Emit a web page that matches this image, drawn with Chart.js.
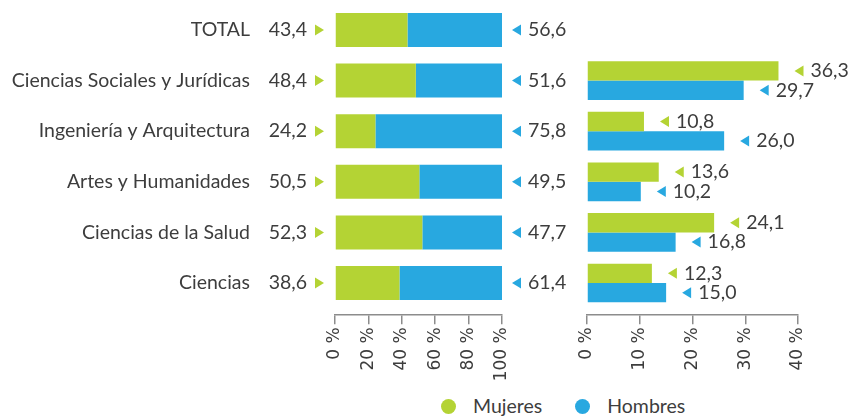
<!DOCTYPE html>
<html>
<head>
<meta charset="utf-8">
<script src="https://cdn.jsdelivr.net/npm/chart.js@4.4.1/dist/chart.umd.min.js"></script>
<style>
  body { margin: 0; background: #fff; }
  #wrap { position: relative; width: 852px; height: 416px; overflow: hidden; }
  #wrap canvas { position: absolute; top: 0; }
  #pct-chart { left: 0; }
  #share-chart { left: 560px; }
  #legend { position: absolute; top: 396px; left: 441px; display: flex; align-items: center;
            font: 19.5px Lato, sans-serif; color: #3d3d3d; line-height: 20px; }
  #legend .item { display: flex; align-items: center; margin-right: 33px; }
  #legend .dot { width: 15px; height: 15px; border-radius: 50%; margin-right: 17px; }
</style>
</head>
<body>
<div id="wrap">
  <canvas id="pct-chart" width="580" height="390"></canvas>
  <canvas id="share-chart" width="292" height="390"></canvas>
  <div id="legend"></div>
</div>
<script>
const labels = ["TOTAL", "Ciencias Sociales y Jurídicas", "Ingeniería y Arquitectura", "Artes y Humanidades", "Ciencias de la Salud", "Ciencias"];
const seriesNames = ["Mujeres", "Hombres"];
const seriesColors = ["#b4d334", "#28a8e0"];

// % de mujeres / hombres dentro de cada rama
const mujeresPct = [43.4, 48.4, 24.2, 50.5, 52.3, 38.6];
const hombresPct = [56.6, 51.6, 75.8, 49.5, 47.7, 61.4];

// peso de cada rama sobre el total de cada sexo (sin fila TOTAL)
const mujeresRama = [null, 36.3, 10.8, 13.6, 24.1, 12.3];
const hombresRama = [null, 29.7, 26.0, 10.2, 16.8, 15.0];

const textColor = "#3d3d3d";
const labelFont = "19.5px Lato, sans-serif";
const axisColor = "#8c8c8c";

const fmt = v => v.toFixed(1).replace(".", ",");

function triangle(ctx, x, y, dir, color) {
  // dir 1 = apunta a la derecha, -1 = a la izquierda
  ctx.fillStyle = color;
  ctx.beginPath();
  if (dir > 0) {
    ctx.moveTo(x, y - 5.5); ctx.lineTo(x + 9, y); ctx.lineTo(x, y + 5.5);
  } else {
    ctx.moveTo(x + 9, y - 5.5); ctx.lineTo(x, y); ctx.lineTo(x + 9, y + 5.5);
  }
  ctx.closePath();
  ctx.fill();
}

// valores a ambos lados de la barra apilada
const sideValues = {
  id: "sideValues",
  afterDatasetsDraw(chart) {
    const { ctx, chartArea } = chart;
    const bars = chart.getDatasetMeta(0).data;
    ctx.save();
    ctx.font = labelFont;
    ctx.textBaseline = "middle";
    bars.forEach((bar, i) => {
      const y = bar.y;
      ctx.fillStyle = textColor;
      ctx.textAlign = "right";
      ctx.fillText(fmt(mujeresPct[i]), chartArea.left - 28, y);
      triangle(ctx, chartArea.left - 20, y, 1, seriesColors[0]);
      triangle(ctx, chartArea.right + 10, y, -1, seriesColors[1]);
      ctx.fillStyle = textColor;
      ctx.textAlign = "left";
      ctx.fillText(fmt(hombresPct[i]), chartArea.right + 26, y);
    });
    ctx.restore();
  }
};

// valor al final de cada barra
const endValues = {
  id: "endValues",
  afterDatasetsDraw(chart) {
    const { ctx } = chart;
    ctx.save();
    ctx.font = labelFont;
    ctx.textBaseline = "middle";
    ctx.textAlign = "left";
    chart.data.datasets.forEach((ds, d) => {
      chart.getDatasetMeta(d).data.forEach((bar, i) => {
        const v = ds.data[i];
        if (v === null) return;
        triangle(ctx, bar.x + 16, bar.y, -1, seriesColors[d]);
        ctx.fillStyle = textColor;
        ctx.fillText(fmt(v), bar.x + 32, bar.y);
      });
    });
    ctx.restore();
  }
};

function bottomAxis(max, step) {
  return {
    type: "linear",
    position: "bottom",
    weight: 10,
    min: 0,
    max: max,
    grid: { drawOnChartArea: false, color: axisColor, tickLength: 10, lineWidth: 1.5 },
    border: { color: axisColor, width: 1.5 },
    ticks: {
      stepSize: step,
      minRotation: 90,
      maxRotation: 90,
      padding: 3,
      color: textColor,
      font: { family: "'DejaVu Sans', sans-serif", size: 17 },
      callback: v => v + " %"
    },
    afterFit: s => { s.height = 70; }
  };
}

// separa la línea del eje de las barras
function gapAxis() {
  return {
    type: "linear",
    position: "bottom",
    weight: 0,
    grid: { display: false },
    border: { display: false },
    ticks: { display: false },
    afterFit: s => { s.height = 6; }
  };
}

Chart.defaults.font.family = "Lato, sans-serif";
Chart.defaults.color = textColor;

new Chart(document.getElementById("pct-chart"), {
  type: "bar",
  data: {
    labels: labels,
    datasets: [
      { label: seriesNames[0], data: mujeresPct, backgroundColor: seriesColors[0], categoryPercentage: 0.672, barPercentage: 1 },
      { label: seriesNames[1], data: hombresPct, backgroundColor: seriesColors[1], categoryPercentage: 0.672, barPercentage: 1 }
    ]
  },
  options: {
    indexAxis: "y",
    responsive: false,
    animation: false,
    layout: { padding: { top: 4.7, bottom: 5.7, left: 0, right: 78 } },
    plugins: { legend: { display: false }, tooltip: { enabled: false } },
    scales: {
      x: Object.assign(bottomAxis(100, 20), { stacked: true }),
      gap: gapAxis(),
      y: {
        stacked: true,
        // tickLength deja el hueco entre el nombre de la rama y los valores
        grid: { display: false, drawTicks: true, tickLength: 85 },
        border: { display: false },
        // lineHeight bajo para que la primera etiqueta no empuje el área hacia abajo
        ticks: { padding: 0, color: textColor, font: { size: 19.5, lineHeight: 0.4 } },
        afterFit: s => { s.width = 335; }
      }
    }
  },
  plugins: [sideValues]
});

new Chart(document.getElementById("share-chart"), {
  type: "bar",
  data: {
    labels: labels,
    datasets: [
      { label: seriesNames[0], data: mujeresRama, backgroundColor: seriesColors[0], categoryPercentage: 0.765, barPercentage: 1 },
      { label: seriesNames[1], data: hombresRama, backgroundColor: seriesColors[1], categoryPercentage: 0.765, barPercentage: 1 }
    ]
  },
  options: {
    indexAxis: "y",
    responsive: false,
    animation: false,
    layout: { padding: { top: 4.7, bottom: 5.7, left: 27, right: 54 } },
    plugins: { legend: { display: false }, tooltip: { enabled: false } },
    scales: {
      x: bottomAxis(40, 10),
      gap: gapAxis(),
      y: { display: false }
    }
  },
  plugins: [endValues]
});

// leyenda
const legend = document.getElementById("legend");
seriesNames.forEach((name, i) => {
  const item = document.createElement("div");
  item.className = "item";
  const dot = document.createElement("span");
  dot.className = "dot";
  dot.style.background = seriesColors[i];
  item.appendChild(dot);
  item.appendChild(document.createTextNode(name));
  legend.appendChild(item);
});
</script>
</body>
</html>
